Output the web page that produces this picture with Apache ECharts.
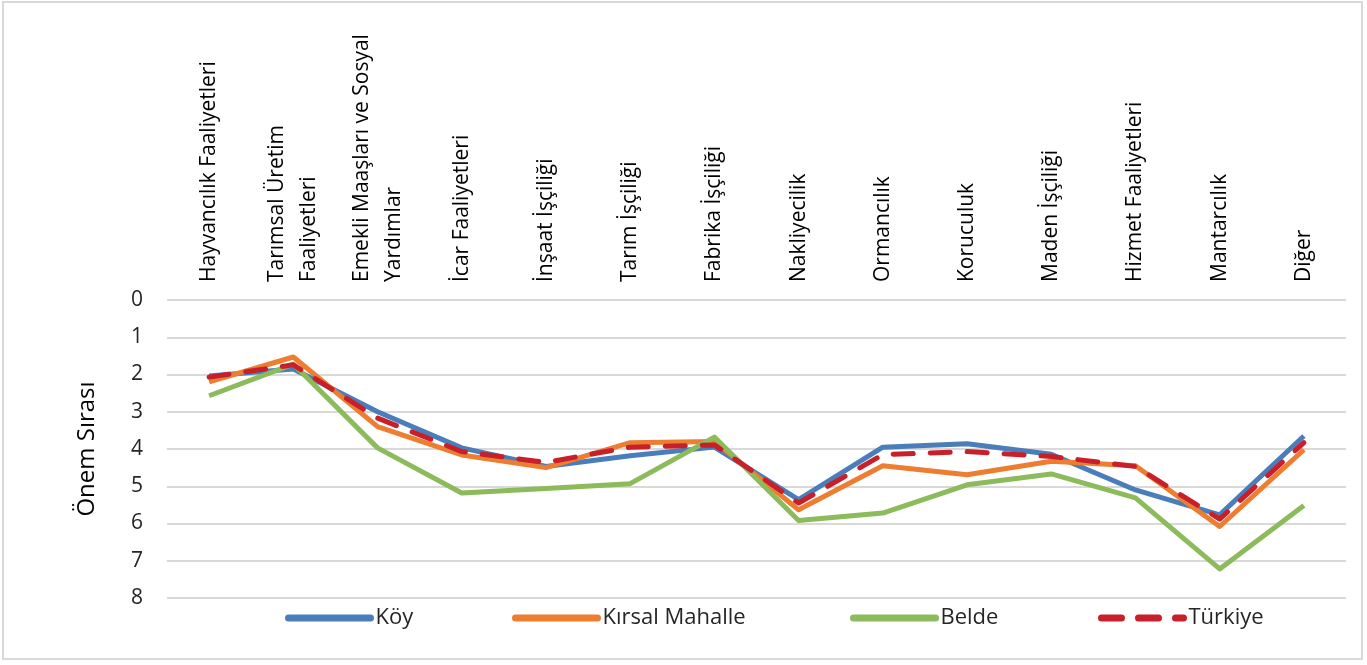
<!DOCTYPE html>
<html>
<head>
<meta charset="utf-8">
<script src="https://cdn.jsdelivr.net/npm/echarts@6/dist/echarts.min.js"></script>
<style>
  html, body { margin: 0; padding: 0; background: #fff; }
  #frame {
    position: absolute; left: 2px; top: 1px; width: 1361px; height: 659px;
    border: 2px solid #d9d9d9; box-sizing: border-box;
  }
  #chart { width: 1367px; height: 665px; }
</style>
</head>
<body>
<div id="frame"></div>
<div id="chart"></div>
<script>
  // Gelir kaynaklarının önem sırası (küçük değer = daha önemli)
  const categories = [
    'Hayvancılık Faaliyetleri',
    'Tarımsal Üretim\nFaaliyetleri',
    'Emekli Maaşları ve Sosyal\nYardımlar',
    'İcar Faaliyetleri',
    'İnşaat İşçiliği',
    'Tarım İşçiliği',
    'Fabrika İşçiliği',
    'Nakliyecilik',
    'Ormancılık',
    'Koruculuk',
    'Maden İşçiliği',
    'Hizmet Faaliyetleri',
    'Mantarcılık',
    'Diğer'
  ];
  const koy     = [2.04, 1.85, 3.00, 3.97, 4.47, 4.18, 3.95, 5.36, 3.95, 3.86, 4.14, 5.10, 5.77, 3.65];
  const kirsal  = [2.20, 1.53, 3.40, 4.16, 4.50, 3.83, 3.80, 5.63, 4.45, 4.69, 4.33, 4.45, 6.08, 4.02];
  const belde   = [2.57, 1.72, 3.97, 5.18, 5.06, 4.93, 3.68, 5.92, 5.72, 4.96, 4.67, 5.31, 7.22, 5.52];
  const turkiye = [2.07, 1.74, 3.17, 4.07, 4.36, 3.95, 3.89, 5.45, 4.15, 4.07, 4.20, 4.47, 5.88, 3.83];
  const seriesNames = ['Köy', 'Kırsal Mahalle', 'Belde', 'Türkiye'];
  const yTicks  = [0, 1, 2, 3, 4, 5, 6, 7, 8];

  const font = '"Open Sans", "Noto Sans", sans-serif';
  const chart = echarts.init(document.getElementById('chart'));

  function line(name, data, color, dashed) {
    return {
      name: name,
      type: 'line',
      data: data,
      symbol: 'none',
      z: dashed ? 5 : 3,
      lineStyle: {
        color: color,
        width: 5,
        type: dashed ? [20, 17] : 'solid',
        cap: dashed ? 'round' : 'butt',
        join: 'round'
      },
      itemStyle: { color: color }
    };
  }

  // one legend per entry so each sits where the original has it
  const legendLeft = [280, 507, 845, 1093];
  const legends = seriesNames.map((n, i) => ({
    data: [n],
    left: legendLeft[i],
    bottom: 31,
    itemWidth: 82,
    itemHeight: 14,
    itemGap: 0,
    textStyle: { fontFamily: font, fontSize: 22, color: '#262626' },
    itemStyle: { opacity: 0 },
    lineStyle: { width: 7, cap: 'round', opacity: 1 }
  }));

  chart.setOption({
    animation: false,
    grid: { left: 167, right: 21, top: 300, bottom: 67 },
    legend: legends,
    xAxis: {
      type: 'category',
      position: 'top',
      data: categories,
      boundaryGap: true,
      axisLine: { show: false },
      axisTick: { show: false },
      axisLabel: {
        rotate: 90,
        margin: 18,
        interval: 0,
        fontFamily: font,
        fontSize: 21,
        color: '#000',
        lineHeight: 32
      }
    },
    yAxis: {
      type: 'value',
      inverse: true,
      min: yTicks[0],
      max: yTicks[yTicks.length - 1],
      interval: 1,
      name: 'Önem Sırası',
      nameLocation: 'middle',
      nameGap: 68,
      nameRotate: 90,
      nameTextStyle: { fontFamily: font, fontSize: 24, color: '#000' },
      axisLine: { show: false },
      axisTick: { show: false },
      axisLabel: { fontFamily: font, fontSize: 21, color: '#262626', margin: 24 },
      splitLine: { lineStyle: { color: '#d9d9d9', width: 2 } }
    },
    series: [
      line(seriesNames[0], koy, '#4a7ebb', false),
      line(seriesNames[1], kirsal, '#ed7d31', false),
      line(seriesNames[2], belde, '#8cbb5c', false),
      line(seriesNames[3], turkiye, '#c8202a', true)
    ]
  });
</script>
</body>
</html>
